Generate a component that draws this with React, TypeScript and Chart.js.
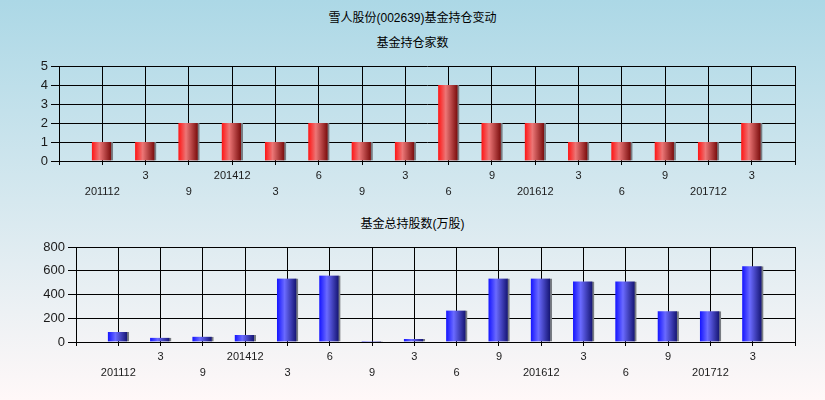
import { useEffect, useRef } from "react"
import { Chart, registerables } from "chart.js"

Chart.register(...registerables)

const periods = ['201112', '3', '9', '201412', '3', '6', '9', '3', '6', '9', '201612', '3', '6', '9', '201712', '3']
const fundCounts = [1, 1, 2, 2, 1, 2, 1, 1, 4, 2, 2, 1, 1, 1, 1, 2]
const fundShares = [85, 35, 45, 60, 535, 560, 8, 25, 265, 535, 535, 510, 510, 258, 258, 637]
const countTicks = [0, 1, 2, 3, 4, 5]
const shareTicks = [0, 200, 400, 600, 800]

const redStops = ['#ff1414', '#ec7676', '#7e1010']
const blueStops = ['#1414ff', '#6a6aff', '#181878']

const BAR_W = 21
const FONT = '"Liberation Sans", Arial, "Noto Sans CJK SC", sans-serif'

function barFill(stops: string[]) {
    return (c: any) => {
        const chart = c.chart
        const x = chart.scales?.x
        if (!x || c.type !== 'data') return stops[1]
        const cx = x.getPixelForValue(c.dataIndex)
        if (!Number.isFinite(cx)) return stops[1]
        const g = chart.ctx.createLinearGradient(cx - BAR_W / 2, 0, cx + BAR_W / 2 - 2, 0)
        g.addColorStop(0, stops[0])
        g.addColorStop(0.4, stops[1])
        g.addColorStop(1, stops[2])
        return g
    }
}

type PanelProps = {
    top: number
    values: number[]
    ticks: number[]
    stops: string[]
    plotTop: number
    plotBottom: number
    yWidth: number
}

function Panel({ top, values, ticks, stops, plotTop, plotBottom, yWidth }: PanelProps) {
    const canvasRef = useRef<HTMLCanvasElement>(null)
    useEffect(() => {
        const ctx = canvasRef.current
        if (ctx == null) return
        const xHeight = 39
        const labels = ['', ...periods.map((p, i) => (i % 2 === 0 ? ['', p] : [p])), '']
        const chart = new Chart(ctx, {
            type: 'bar',
            data: {
                labels: labels as any,
                datasets: [{
                    data: [null, ...values, null],
                    backgroundColor: barFill(stops),
                    borderColor: '#787c82',
                    borderWidth: { left: 0, right: 2, top: 0, bottom: 0 },
                    borderSkipped: false,
                    barThickness: BAR_W,
                }]
            },
            options: {
                animation: false,
                responsive: true,
                maintainAspectRatio: false,
                layout: {
                    padding: { top: plotTop, left: 0, right: 30, bottom: 200 - plotBottom - xHeight },
                },
                plugins: {
                    legend: { display: false },
                    title: { display: false },
                    tooltip: { enabled: false },
                },
                scales: {
                    x: {
                        offset: false,
                        afterFit: (s: any) => { s.height = xHeight },
                        grid: { offset: false, color: '#000', lineWidth: 1, tickLength: 4, tickColor: '#000' },
                        border: { color: '#000', width: 1 },
                        ticks: {
                            autoSkip: false,
                            maxRotation: 0,
                            padding: 3,
                            color: '#1a1a1a',
                            font: { family: FONT, size: 11, lineHeight: 16 / 11 },
                        },
                    },
                    y: {
                        min: ticks[0],
                        max: ticks[ticks.length - 1],
                        afterFit: (s: any) => { s.width = yWidth },
                        afterBuildTicks: (s: any) => { s.ticks = ticks.map(v => ({ value: v })) },
                        grid: { color: '#000', lineWidth: 1, tickLength: 8, tickColor: '#000' },
                        border: { color: '#000', width: 1 },
                        ticks: {
                            padding: 3,
                            color: '#1a1a1a',
                            font: { family: FONT, size: 13 },
                        },
                    },
                },
            },
        })
        return () => chart.destroy()
    }, [canvasRef])

    return (
        <div style={{ position: 'absolute', left: 0, top, width: 825, height: 200 }}>
            <canvas ref={canvasRef} />
        </div>
    )
}

const titleStyle: React.CSSProperties = {
    position: 'absolute', left: 0, width: 825, textAlign: 'center',
    fontFamily: FONT, fontSize: 12, lineHeight: '16px', color: '#000',
}

export default function App() {
    return (
        <div style={{
            position: 'fixed', left: 0, top: 0, width: 825, height: 400, overflow: 'hidden',
            background: 'linear-gradient(to bottom, #acd8e6, #fff8f8)',
        }}>
            <div style={{ ...titleStyle, top: 10 }}>雪人股份(002639)基金持仓变动</div>
            <div style={{ ...titleStyle, top: 35 }}>基金持仓家数</div>
            <div style={{ ...titleStyle, top: 216 }}>基金总持股数(万股)</div>
            <Panel top={0} values={fundCounts} ticks={countTicks} stops={redStops} plotTop={66} plotBottom={161} yWidth={59} />
            <Panel top={200} values={fundShares} ticks={shareTicks} stops={blueStops} plotTop={47} plotBottom={142} yWidth={76} />
        </div>
    )
}
